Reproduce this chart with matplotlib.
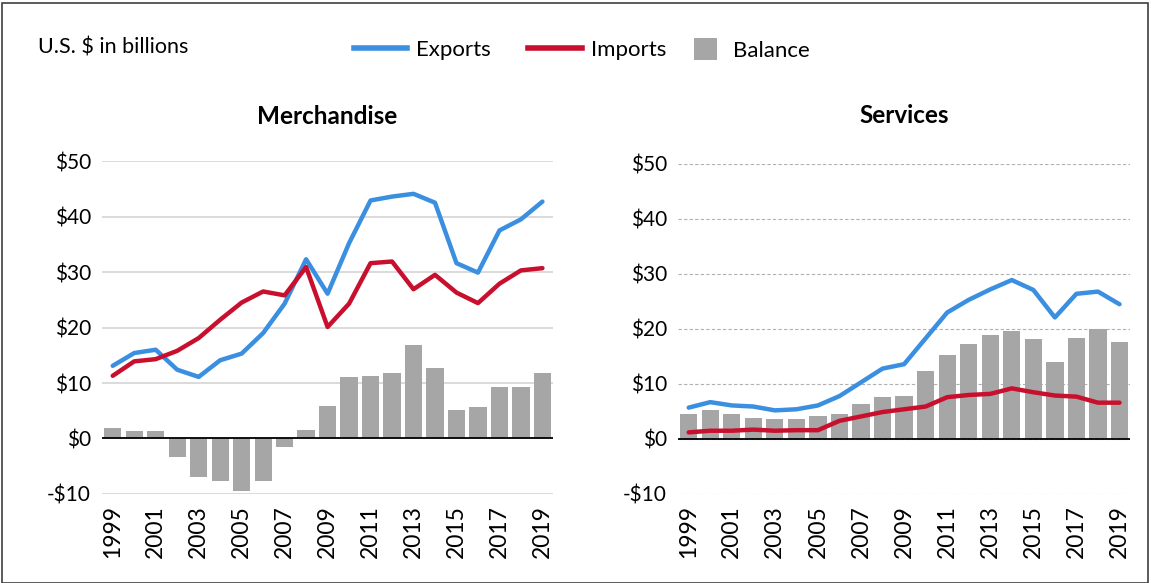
import matplotlib
matplotlib.use('Agg')
import matplotlib.pyplot as plt
from matplotlib.lines import Line2D
from matplotlib.patches import Patch, Rectangle

plt.rcParams['font.family'] = ['Lato', 'DejaVu Sans']

years = [str(y) for y in range(1999, 2020)]

merch_exports = [13.1, 15.4, 16.0, 12.4, 11.1, 14.1, 15.3, 19.0, 24.3, 32.3, 26.1,
                 35.2, 42.9, 43.6, 44.1, 42.5, 31.6, 29.9, 37.5, 39.5, 42.7]
merch_imports = [11.3, 13.9, 14.3, 15.8, 18.1, 21.4, 24.5, 26.5, 25.8, 30.9, 20.1,
                 24.3, 31.6, 31.9, 26.9, 29.5, 26.3, 24.4, 27.9, 30.3, 30.7]
merch_balance = [1.9, 1.4, 1.4, -3.4, -6.9, -7.6, -9.4, -7.6, -1.5, 1.6, 5.8,
                 11.1, 11.3, 11.8, 16.9, 12.7, 5.1, 5.6, 9.3, 9.3, 11.8]

serv_exports = [5.7, 6.7, 6.1, 5.9, 5.2, 5.4, 6.1, 7.8, 10.3, 12.8, 13.6,
                18.3, 23.0, 25.3, 27.2, 28.9, 27.1, 22.1, 26.4, 26.8, 24.5]
serv_imports = [1.2, 1.5, 1.5, 1.7, 1.5, 1.6, 1.6, 3.3, 4.1, 4.9, 5.4,
                5.9, 7.6, 8.0, 8.2, 9.2, 8.5, 7.9, 7.7, 6.6, 6.6]
serv_balance = [4.5, 5.2, 4.5, 3.8, 3.6, 3.6, 4.2, 4.5, 6.3, 7.7, 7.9,
                12.4, 15.2, 17.3, 18.9, 19.6, 18.2, 14.0, 18.4, 20.0, 17.7]

yticks = [-10, 0, 10, 20, 30, 40, 50]
ytick_labels = ['-$10', '$0', '$10', '$20', '$30', '$40', '$50']

BLUE = '#3b8fe0'
RED = '#c8102e'
GRAY = '#a6a6a6'

fig = plt.figure(figsize=(11.51, 5.83), dpi=100)
fig.add_artist(Rectangle((0.002, 0.0), 0.995, 0.995, transform=fig.transFigure,
                         fill=False, edgecolor='#404040', linewidth=1.2))


def panel(rect, title, exports, imports, balance, dashed, title_pad):
    ax = fig.add_axes(rect)
    x = range(len(years))
    ax.bar(x, balance, width=0.8, color=GRAY, zorder=2)
    ax.axhline(0, color='black', linewidth=1.3, zorder=3)
    ax.plot(x, exports, color=BLUE, linewidth=3.2, solid_capstyle='round', zorder=4)
    ax.plot(x, imports, color=RED, linewidth=3.2, solid_capstyle='round', zorder=4)
    ax.set_xlim(-0.5, len(years) - 0.5)
    ax.set_ylim(-10, 50)
    ax.set_yticks(yticks)
    ax.set_yticklabels(ytick_labels, fontsize=15)
    ax.set_xticks(list(x)[::2])
    ax.set_xticklabels(years[::2], rotation=90, fontsize=16.5)
    ax.tick_params(length=0, pad=8)
    for s in ax.spines.values():
        s.set_visible(False)
    if dashed:
        ax.grid(axis='y', color='#b0b0b0', linestyle=(0, (3, 2)), linewidth=0.8, zorder=0)
    else:
        ax.grid(axis='y', color='#d4d4d4', linewidth=1.2, zorder=0)
    ax.set_axisbelow(True)
    ax.set_title(title, fontsize=17.5, fontweight='bold', pad=title_pad)
    return ax


panel([0.0886, 0.1527, 0.392, 0.571], 'Merchandise',
      merch_exports, merch_imports, merch_balance, False, 27)
panel([0.589, 0.1527, 0.393, 0.566], 'Services',
      serv_exports, serv_imports, serv_balance, True, 29.5)

fig.text(0.033, 0.918, 'U.S. $ in billions', fontsize=15.5, va='center')

line_handles = [Line2D([0], [0], color=BLUE, linewidth=4),
                Line2D([0], [0], color=RED, linewidth=4)]
fig.legend(line_handles, ['Exports', 'Imports'], loc='center',
           bbox_to_anchor=(0.443, 0.915), ncol=2, frameon=False, fontsize=16,
           handlelength=2.4, columnspacing=1.7, handletextpad=0.4)
fig.legend([Patch(facecolor=GRAY)], ['Balance'], loc='center',
           bbox_to_anchor=(0.653, 0.915), frameon=False, fontsize=16,
           handlelength=1.05, handleheight=1.1, handletextpad=0.7)

fig.savefig('out.png', dpi=100)
plt.close()
